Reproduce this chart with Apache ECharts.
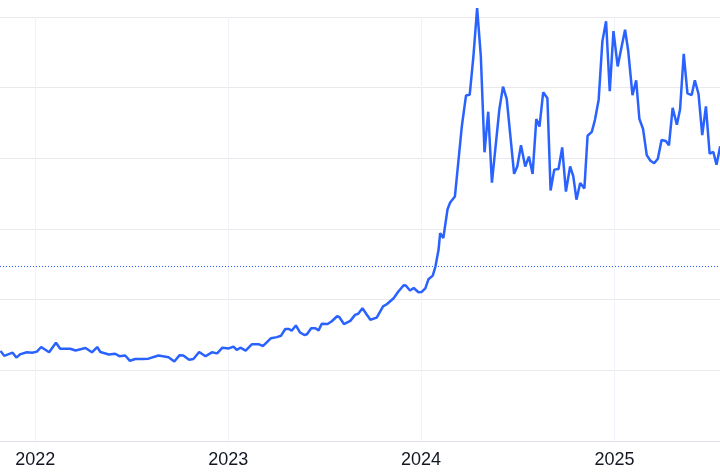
<!DOCTYPE html>
<html>
<head>
<meta charset="utf-8">
<style>
  html, body { margin: 0; padding: 0; background: #ffffff; }
  #chart { width: 720px; height: 473px; }
</style>
<script src="https://cdn.jsdelivr.net/npm/echarts@6/dist/echarts.min.js"></script>
</head>
<body>
<div id="chart"></div>
<script>
// Weekly closing prices (USD/t)
const dates = [
  '2021-10-27','2021-11-03','2021-11-19','2021-11-26','2021-12-04','2021-12-16','2021-12-26',
  '2022-01-04','2022-01-12','2022-01-27','2022-02-09','2022-02-17','2022-03-08','2022-03-18',
  '2022-04-06','2022-04-18','2022-04-28','2022-05-04','2022-05-20','2022-06-01','2022-06-09',
  '2022-06-20','2022-06-29','2022-07-09','2022-07-22','2022-08-03','2022-08-22','2022-09-10',
  '2022-09-21','2022-10-01','2022-10-08','2022-10-19','2022-10-27','2022-11-07','2022-11-19',
  '2022-12-01','2022-12-11','2022-12-21',
  '2023-01-02','2023-01-11','2023-01-17','2023-01-24','2023-02-03','2023-02-15','2023-02-27',
  '2023-03-08','2023-03-23','2023-04-03','2023-04-11','2023-04-19','2023-04-26','2023-05-01',
  '2023-05-09','2023-05-17','2023-05-25','2023-05-30','2023-06-07','2023-06-15','2023-06-21',
  '2023-06-27','2023-07-08','2023-07-16','2023-07-26','2023-07-30','2023-08-08','2023-08-20',
  '2023-08-29','2023-09-04','2023-09-12','2023-09-19','2023-09-27','2023-10-09','2023-10-21',
  '2023-10-28','2023-11-10','2023-11-19','2023-11-29','2023-12-03','2023-12-11','2023-12-18',
  '2023-12-27',
  '2024-01-02','2024-01-09','2024-01-15','2024-01-23','2024-01-28','2024-02-03','2024-02-06',
  '2024-02-12','2024-02-20','2024-02-25','2024-03-05','2024-03-18','2024-03-26','2024-04-02',
  '2024-04-09','2024-04-16','2024-04-23','2024-04-30','2024-05-07','2024-05-14','2024-05-28',
  '2024-06-04','2024-06-11','2024-06-25','2024-07-01','2024-07-08','2024-07-16','2024-07-23',
  '2024-07-30','2024-08-06','2024-08-12','2024-08-19','2024-08-27','2024-09-02','2024-09-09',
  '2024-09-17','2024-09-24','2024-10-01','2024-10-09','2024-10-15','2024-10-21','2024-10-28',
  '2024-11-05','2024-11-11','2024-11-19','2024-11-25','2024-12-02','2024-12-09','2024-12-16',
  '2024-12-23','2024-12-30',
  '2025-01-07','2025-01-14','2025-01-21','2025-01-27','2025-02-04','2025-02-11','2025-02-17',
  '2025-02-24','2025-03-03','2025-03-10','2025-03-17','2025-03-24','2025-03-31','2025-04-08',
  '2025-04-14','2025-04-21','2025-04-29','2025-05-05','2025-05-12','2025-05-19','2025-05-27',
  '2025-06-02','2025-06-09','2025-06-16','2025-06-23','2025-06-30','2025-07-07','2025-07-13',
  '2025-07-20'
];
const prices = [
  2550, 2410, 2500, 2360, 2460, 2510, 2500,
  2530, 2660, 2510, 2780, 2610, 2610, 2560,
  2630, 2510, 2660, 2520, 2450, 2470, 2400,
  2420, 2270, 2320, 2320, 2330, 2420, 2370,
  2250, 2430, 2420, 2300, 2320, 2520, 2400,
  2510, 2480, 2640,
  2620, 2670, 2580, 2640, 2560, 2740, 2740,
  2690, 2910, 2940, 2980, 3170, 3170, 3120,
  3270, 3070, 3000, 3020, 3190, 3190, 3130,
  3320, 3310, 3390, 3530, 3510, 3310, 3400,
  3570, 3600, 3760, 3600, 3430, 3490, 3810,
  3870, 4040, 4230, 4410, 4400, 4260, 4330,
  4210,
  4220, 4320, 4580, 4680, 4930, 5410, 5880,
  5740, 6560, 6750, 6920, 8900, 9780, 9800,
  10890, 12250, 10890, 8170, 9320, 7310, 9380,
  10030, 9680, 7560, 7770, 8370, 7770, 8050,
  7560, 9110, 8900, 9870, 9700, 7090, 7680,
  7700, 8310, 7060, 7770, 7490, 6830, 7300,
  7150, 8640, 8750, 9090, 9660, 11310, 11880,
  9900, 11600,
  10600, 11130, 11640, 11030, 9790, 10210, 9120,
  8830, 8090, 7930, 7860, 7990, 8520, 8490,
  8370, 9430, 8950, 9380, 10960, 9840, 9790,
  10210, 9820, 8660, 9470, 8130, 8180, 7820,
  8340
];
// Reference level (dotted line)
const referenceLevel = 4940;
// Visible window and y scale
const xStart = '2021-10-26T02:30:00';
const xEnd = '2025-07-19T14:45:00';
const yMin = 0, yMax = 12000, yStep = 2000;

const seriesData = dates.map((d, i) => [d, prices[i]]);
const lineBlue = '#2962ff';

const chart = echarts.init(document.getElementById('chart'), null, { renderer: 'canvas' });
chart.setOption({
  animation: false,
  backgroundColor: '#ffffff',
  grid: { left: 0, right: 0, top: 17, bottom: 32, containLabel: false },
  xAxis: {
    type: 'time',
    min: xStart,
    max: xEnd,
    minInterval: 365 * 24 * 3600 * 1000,
    axisLine: { show: true, lineStyle: { color: '#e0e3eb', width: 1 } },
    axisTick: { show: false },
    axisLabel: {
      formatter: '{yyyy}',
      color: '#131722',
      fontSize: 18,
      fontFamily: 'Liberation Sans, Arial, sans-serif',
      margin: 10,
      showMinLabel: false,
      showMaxLabel: false,
      hideOverlap: false
    },
    splitLine: {
      show: true,
      showMinLine: false,
      showMaxLine: false,
      lineStyle: { color: '#f0f3fa', width: 1 }
    }
  },
  yAxis: {
    type: 'value',
    min: yMin,
    max: yMax,
    interval: yStep,
    axisLine: { show: false },
    axisTick: { show: false },
    axisLabel: { show: false },
    splitLine: { show: true, lineStyle: { color: '#e9e9ed', width: 1 } }
  },
  series: [{
    type: 'line',
    data: seriesData,
    showSymbol: false,
    symbol: 'none',
    clip: false,
    color: lineBlue,
    lineStyle: { color: lineBlue, width: 2.5 },
    markLine: {
      silent: true,
      symbol: ['none', 'none'],
      label: { show: false },
      itemStyle: { color: lineBlue },
      lineStyle: { color: lineBlue, type: [1, 2], width: 1, opacity: 1 },
      emphasis: { disabled: true },
      data: [{ yAxis: referenceLevel, lineStyle: { color: lineBlue, type: [1, 2], width: 1 } }]
    }
  }]
});
</script>
</body>
</html>
